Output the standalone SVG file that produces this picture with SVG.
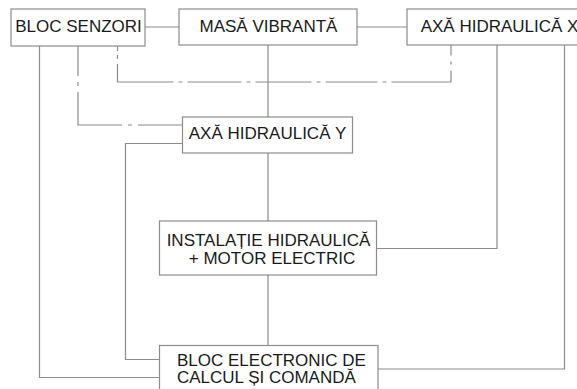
<svg xmlns="http://www.w3.org/2000/svg" width="577" height="389" viewBox="0 0 577 389">
<style>
.box{fill:#fff;stroke:#8c8c8c;stroke-width:1.2}
.ln{fill:none;stroke:#8c8c8c;stroke-width:1.2}
.t{font-family:"Liberation Sans",Arial,sans-serif;font-size:17px;fill:#1a1a1a}
.c{text-anchor:middle}
</style>
<rect width="577" height="389" fill="#fff"/>
<g id="connectors">
<path class="ln" d="M145,27H179"/>
<path class="ln" d="M357,27H407"/>
<path class="ln" d="M268,45V117"/>
<path class="ln" d="M268,153V221"/>
<path class="ln" d="M268,275V345.5"/>
<path class="ln" d="M39.5,46V377.5H159.5"/>
<path class="ln" d="M182.5,143.5H125.5V359.5H159.5"/>
<path class="ln" d="M376.5,248.5H497V45"/>
<path class="ln" d="M378,369H564.5V45"/>
<path class="ln" d="M117.5,46V82H451V45" stroke-dasharray="5 4 4 5 74 5 4 5 54 5 4 5 56 5 4 5 52 5 4 5 71 6 3 6 30"/>
<path class="ln" d="M78,46V125H182.5" stroke-dasharray="30 6 4 6 77 6 4 6 100"/>
</g>
<g id="bloc-senzori">
<rect class="box" x="11" y="9" width="134" height="37"/>
<text class="t c" x="78.5" y="32.3">BLOC SENZORI</text>
</g>
<g id="masa-vibranta">
<rect class="box" x="179" y="9" width="178" height="36"/>
<text class="t c" x="268.5" y="32">MASĂ VIBRANTĂ</text>
</g>
<g id="axa-x">
<rect class="box" x="407" y="9" width="186" height="36"/>
<text class="t" x="420.7" y="32">AXĂ HIDRAULICĂ X</text>
</g>
<g id="axa-y">
<rect class="box" x="182.5" y="117" width="170" height="36"/>
<text class="t c" x="267.5" y="138.5">AXĂ HIDRAULICĂ Y</text>
</g>
<g id="instalatie">
<rect class="box" x="159.5" y="221" width="217" height="54"/>
<text class="t c" x="268.5" y="245.8">INSTALAȚIE HIDRAULICĂ</text>
<text class="t c" x="272" y="263.5">+ MOTOR ELECTRIC</text>
</g>
<g id="bloc-electronic">
<rect class="box" x="159.5" y="345.5" width="218.5" height="60"/>
<text class="t" x="177" y="365.5">BLOC ELECTRONIC DE</text>
<text class="t" x="177" y="383.3">CALCUL ȘI COMANDĂ</text>
</g>
</svg>
